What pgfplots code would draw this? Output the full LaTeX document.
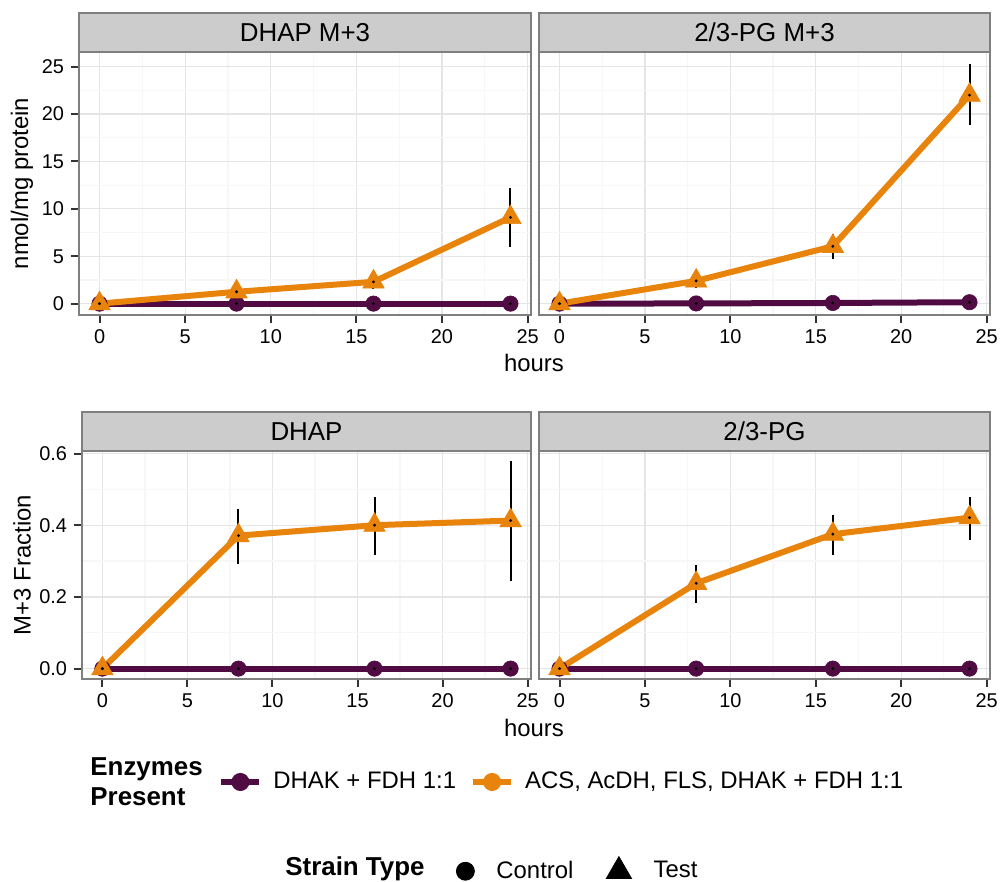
\documentclass[border=0pt]{standalone}
\usepackage{fontspec}
\setmainfont{Liberation Sans}
\usepackage{pgfplots}
\usepackage{pgfplotstable}
\pgfplotsset{compat=1.18}

\definecolor{purp}{HTML}{500B42}
\definecolor{orng}{HTML}{E8830B}
\definecolor{border}{HTML}{7F7F7F}
\definecolor{stripc}{HTML}{CCCCCC}
\definecolor{gridmaj}{HTML}{E5E5E5}
\definecolor{gridmin}{HTML}{F7F7F7}
\definecolor{tickc}{HTML}{333333}

% columns: hours, mean, upper and lower half-width of the error bar
\pgfplotstableread{
x y ep em
0 0 0 0
8 0 0 0
16 0 0 0
24 0 0 0
}\zeroctl

\pgfplotstableread{
x y ep em
0 0 0 0
8 1.25 0.55 0.55
16 2.3 0.8 0.8
24 9.1 3.1 3.1
}\dhapMtst

\pgfplotstableread{
x y ep em
0 0 0 0
8 0.02 0 0
16 0.07 0 0
24 0.15 0 0
}\pgMctl

\pgfplotstableread{
x y ep em
0 0 0 0
8 2.4 0.8 0.7
16 6.05 1.3 1.3
24 22.0 3.3 3.2
}\pgMtst

\pgfplotstableread{
x y ep em
0 0 0 0
8 0.371 0.074 0.078
16 0.400 0.078 0.082
24 0.413 0.165 0.170
}\dhapFtst

\pgfplotstableread{
x y ep em
0 0 0 0
8 0.238 0.051 0.056
16 0.375 0.054 0.059
24 0.421 0.058 0.061
}\pgFtst

\pgfplotsset{
  panel/.style={
    scale only axis,
    xmin=-1.2, xmax=25.2,
    xtick={0,5,10,15,20,25},
    minor xtick={2.5,7.5,12.5,17.5,22.5},
    grid=both,
    major grid style={draw=gridmaj, line width=0.6bp},
    minor grid style={draw=gridmin, line width=0.6bp},
    axis line style={draw=border, line width=1.1bp},
    tick align=outside, tick pos=left,
    major tick length=4bp, minor tick length=0pt,
    every tick/.append style={draw=tickc, line width=1bp},
    tick label style={font=\fontsize{10}{12}\selectfont, text=black},
    /pgf/number format/assume math mode=true,
  },
  toppanel/.style={panel, width=226bp, height=131.5bp,
    ymin=-1.2, ymax=26.55,
    ytick={0,5,10,15,20,25}, minor ytick={2.5,7.5,12.5,17.5,22.5}},
  botpanel/.style={panel, width=224.5bp, height=114bp,
    ymin=-0.029, ymax=0.607,
    ytick={0,0.2,0.4,0.6}, minor ytick={0.1,0.3,0.5},
    yticklabel style={/pgf/number format/.cd, fixed, fixed zerofill, precision=1}},
  noylabels/.style={yticklabels={}, ytick style={draw=none}},
  ctl/.style={purp, line width=3bp, mark=*, mark size=3.85bp,
    mark options={fill=purp, draw=purp, line width=0.3bp}},
  tst/.style={orng, line width=3bp, mark=triangle*, mark size=6.2bp,
    mark options={fill=orng, draw=orng, line width=0.3bp}},
  ebar/.style={black, only marks, mark=*, mark size=0.5bp,
    error bars/.cd, y dir=both, y explicit, error mark=none,
    error bar style={line width=1bp, black}},
}

\newcommand\strip[2]{%
  \draw[fill=stripc, draw=border, line width=1.1bp]
    (#1.north west) rectangle ([yshift=19.5bp]#1.north east);
  \node[anchor=base, font=\fontsize{13}{15}\selectfont, inner sep=0pt]
    at ([yshift=5.1bp]#1.north) {#2};}

\begin{document}
\begin{tikzpicture}
\useasboundingbox (0,0) rectangle (500bp,-441bp);

% ---------- absolute amounts ----------
\begin{axis}[toppanel, name=tl, at={(39.5bp,-157.5bp)}, anchor=south west]
  \addplot[ctl] table[x=x, y=y] {\zeroctl};
  \addplot[tst] table[x=x, y=y] {\dhapMtst};
  \addplot[ebar] table[x=x, y=y, y error plus=ep, y error minus=em] {\zeroctl};
  \addplot[ebar] table[x=x, y=y, y error plus=ep, y error minus=em] {\dhapMtst};
\end{axis}

\begin{axis}[toppanel, noylabels, name=tr, at={(269.5bp,-157.5bp)}, anchor=south west, width=225.5bp]
  \addplot[ctl] table[x=x, y=y] {\pgMctl};
  \addplot[tst] table[x=x, y=y] {\pgMtst};
  \addplot[ebar] table[x=x, y=y, y error plus=ep, y error minus=em] {\pgMctl};
  \addplot[ebar] table[x=x, y=y, y error plus=ep, y error minus=em] {\pgMtst};
\end{axis}

% ---------- labelled fractions ----------
\begin{axis}[botpanel, name=bl, at={(41bp,-339.5bp)}, anchor=south west]
  \addplot[ctl] table[x=x, y=y] {\zeroctl};
  \addplot[tst] table[x=x, y=y] {\dhapFtst};
  \addplot[ebar] table[x=x, y=y, y error plus=ep, y error minus=em] {\zeroctl};
  \addplot[ebar] table[x=x, y=y, y error plus=ep, y error minus=em] {\dhapFtst};
\end{axis}

\begin{axis}[botpanel, noylabels, name=br, at={(269.5bp,-339.5bp)}, anchor=south west, width=225.5bp]
  \addplot[ctl] table[x=x, y=y] {\zeroctl};
  \addplot[tst] table[x=x, y=y] {\pgFtst};
  \addplot[ebar] table[x=x, y=y, y error plus=ep, y error minus=em] {\zeroctl};
  \addplot[ebar] table[x=x, y=y, y error plus=ep, y error minus=em] {\pgFtst};
\end{axis}

\strip{tl}{DHAP M+3}
\strip{tr}{2/3-PG M+3}
\strip{bl}{DHAP}
\strip{br}{2/3-PG}

% axis titles
\node[font=\fontsize{12}{14}\selectfont] at (267bp,-181.5bp) {hours};
\node[font=\fontsize{12}{14}\selectfont] at (267bp,-364bp) {hours};
\node[font=\fontsize{12}{14}\selectfont, rotate=90] at (11bp,-91.75bp) {nmol/mg protein};
\node[font=\fontsize{12}{14}\selectfont, rotate=90] at (11bp,-282.5bp) {M+3 Fraction};

% ---------- legends ----------
\node[anchor=west, align=left, inner sep=0pt,
      font=\bfseries\fontsize{13}{15}\selectfont] at (45bp,-391bp) {Enzymes\\Present};
\begin{axis}[at={(0bp,-441bp)}, anchor=south west, scale only axis,
    width=500bp, height=441bp, hide axis, xmin=0, xmax=1, ymin=0, ymax=1,
    legend columns=2,
    legend style={at={(axis description cs:0.218,0.1134)}, anchor=west,
      draw=none, fill=none, inner sep=0pt,
      font=\fontsize{12}{14}\selectfont,
      nodes={inner sep=0pt},
      /tikz/every odd column/.append style={column sep=5.5bp},
      /tikz/every even column/.append style={column sep=7bp}},
    legend image code/.code={%
      \draw[#1, line width=3bp] (0bp,0bp) -- (19bp,0bp);
      \fill[#1] (9.5bp,0bp) circle (4.3bp);}]
  \addlegendimage{color=purp}
  \addlegendentry{DHAK + FDH 1:1}
  \addlegendimage{color=orng}
  \addlegendentry{ACS, AcDH, FLS, DHAK + FDH 1:1}
\end{axis}

\node[anchor=west, inner sep=0pt,
      font=\bfseries\fontsize{13}{15}\selectfont] at (142.5bp,-434.5bp) {Strain Type};
\begin{axis}[at={(0bp,-441bp)}, anchor=south west, scale only axis,
    width=500bp, height=441bp, hide axis, xmin=0, xmax=1, ymin=0, ymax=1,
    legend columns=2,
    legend style={at={(axis description cs:0.456,0.01474)}, anchor=west,
      draw=none, fill=none, inner sep=0pt,
      font=\fontsize{12}{14}\selectfont,
      nodes={inner sep=0pt},
      /tikz/every odd column/.append style={column sep=11bp},
      /tikz/every even column/.append style={column sep=16.4bp}},
    legend image code/.code={\draw[#1] plot coordinates {(0bp,0bp)};}]
  \addlegendimage{only marks, mark=*, mark size=4.5bp, black}
  \addlegendentry{Control}
  \addlegendimage{only marks, mark=triangle*, mark size=7.3bp, black}
  \addlegendentry{Test}
\end{axis}
\end{tikzpicture}
\end{document}
